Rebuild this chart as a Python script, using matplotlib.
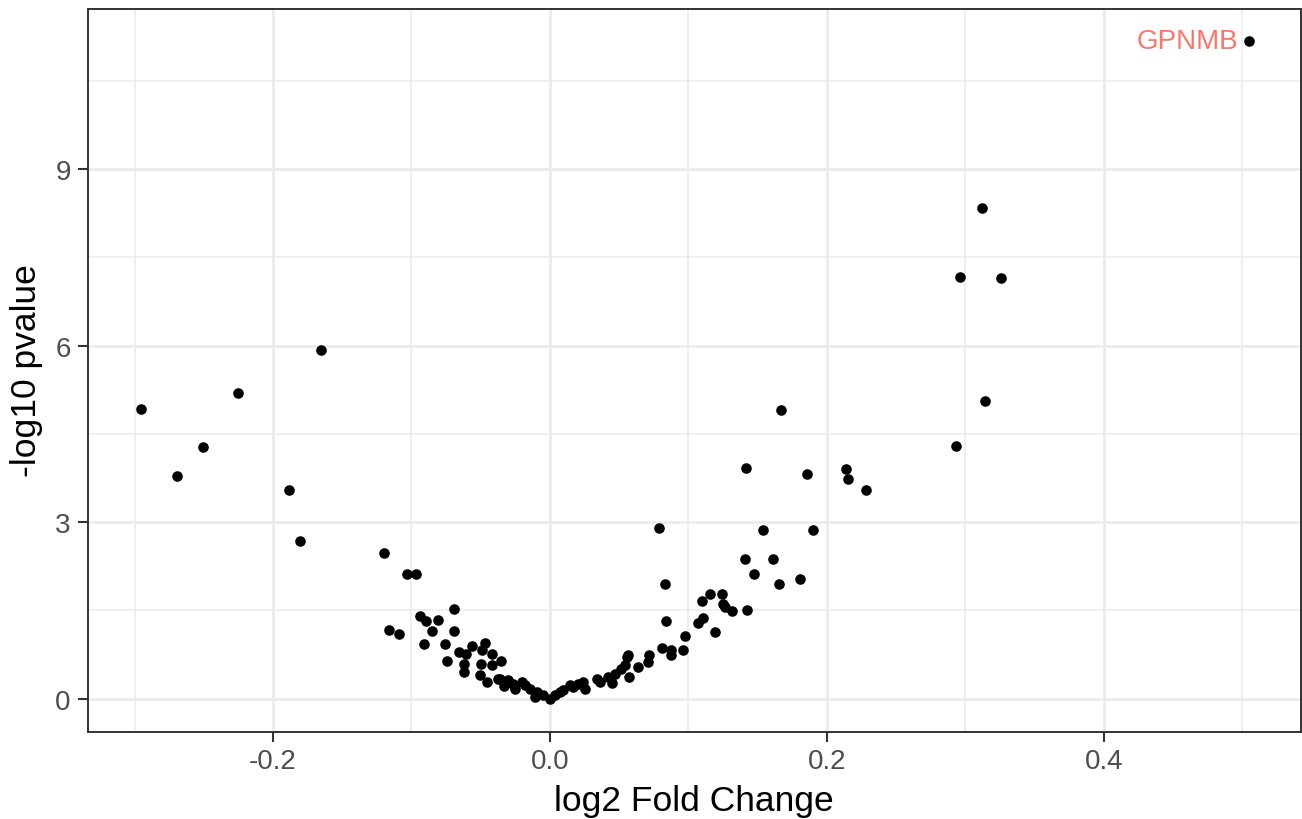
import matplotlib
matplotlib.use("Agg")
import matplotlib.pyplot as plt
import numpy as np

plt.rcParams['font.family'] = ['Liberation Sans', 'DejaVu Sans']

# log2 fold change / -log10 pvalue
log2fc = [
    -0.295, -0.269, -0.2505, -0.225, -0.1656, -0.1882, -0.1803,
    -0.120, -0.1035, -0.0967, -0.116, -0.109,
    -0.094, -0.0895, -0.081, -0.069, -0.085, -0.069,
    -0.091, -0.076, -0.0746, -0.066, -0.0607, -0.0566,
    -0.047, -0.0493, -0.042, -0.035, -0.062, -0.062,
    -0.0498, -0.0416, -0.0505, -0.0457, -0.0373, -0.036,
    -0.030, -0.0265, -0.033, -0.025, -0.0204, -0.018,
    -0.0144, -0.0096, -0.0108, -0.0048, 0.0, 0.0036,
    0.0072, 0.0096, 0.0144, 0.0168, 0.0204, 0.024,
    0.0253, 0.0337, 0.0361, 0.0421, 0.047, 0.0445,
    0.0517, 0.054, 0.0554, 0.0566, 0.0573, 0.0638,
    0.0710, 0.0717, 0.083, 0.0838, 0.0806, 0.0871,
    0.0874, 0.0958, 0.0975, 0.1066, 0.1107, 0.1102,
    0.1155, 0.119, 0.124, 0.1251, 0.1264, 0.1312,
    0.167, 0.1415, 0.186, 0.2135, 0.2154, 0.228,
    0.0787, 0.1538, 0.1899, 0.1408, 0.1613, 0.1473,
    0.1653, 0.1807, 0.1425,
    0.3122, 0.2963, 0.3259, 0.3143, 0.2934, 0.505,
]
neglog10p = [
    4.93, 3.79, 4.27, 5.19, 5.93, 3.55, 2.67,
    2.48, 2.12, 2.12, 1.16, 1.10,
    1.40, 1.32, 1.34, 1.53, 1.15, 1.15,
    0.93, 0.93, 0.63, 0.79, 0.75, 0.90,
    0.95, 0.83, 0.75, 0.64, 0.58, 0.45,
    0.58, 0.57, 0.40, 0.28, 0.34, 0.34,
    0.31, 0.25, 0.22, 0.16, 0.28, 0.23,
    0.17, 0.11, 0.03, 0.06, 0.0, 0.06,
    0.11, 0.14, 0.23, 0.20, 0.25, 0.28,
    0.17, 0.34, 0.28, 0.37, 0.42, 0.26,
    0.51, 0.57, 0.71, 0.74, 0.37, 0.54,
    0.62, 0.74, 1.94, 1.32, 0.86, 0.82,
    0.74, 0.83, 1.07, 1.28, 1.37, 1.65,
    1.77, 1.13, 1.78, 1.61, 1.56, 1.48,
    4.91, 3.92, 3.81, 3.90, 3.73, 3.54,
    2.90, 2.86, 2.86, 2.37, 2.37, 2.11,
    1.94, 2.04, 1.50,
    8.34, 7.16, 7.15, 5.05, 4.29, 11.17,
]
label_gene = "GPNMB"
label_idx = len(log2fc) - 1

x_ticks = [-0.2, 0.0, 0.2, 0.4]
x_minor = [-0.3, -0.1, 0.1, 0.3, 0.5]
y_ticks = [0, 3, 6, 9]
y_minor = [1.5, 4.5, 7.5, 10.5]

W, H = 1302, 820
fig = plt.figure(figsize=(W / 100, H / 100), dpi=100)
ax = fig.add_axes([87.5 / W, 1 - 732.5 / H, (1301 - 87.5) / W, (732.5 - 9.5) / H])

ax.set_xlim(-0.334, 0.5425)
ax.set_ylim(-0.56, 11.73)

ax.set_xticks(x_ticks)
ax.set_xticklabels(["-0.2", "0.0", "0.2", "0.4"])
ax.set_xticks(x_minor, minor=True)
ax.set_yticks(y_ticks)
ax.set_yticks(y_minor, minor=True)

ax.grid(which='major', color='#EBEBEB', linewidth=2.0, zorder=0)
ax.grid(which='minor', color='#EBEBEB', linewidth=1.1, zorder=0)
ax.set_axisbelow(True)

ax.tick_params(which='major', length=7, width=1.5, color='#333333',
               labelsize=20, labelcolor='#4D4D4D', pad=5)
ax.tick_params(which='minor', length=0)

for sp in ax.spines.values():
    sp.set_color('#333333')
    sp.set_linewidth(1.4)

ax.scatter(log2fc, neglog10p, s=58, color='black', linewidths=0, zorder=3)

ax.annotate(label_gene, (log2fc[label_idx], neglog10p[label_idx]),
            xytext=(-7.5, 0), textcoords='offset points',
            ha='right', va='center', color='#F8766D', fontsize=20)

ax.set_xlabel("log2 Fold Change", fontsize=25.5, color='black', labelpad=7)
ax.set_ylabel("-log10 pvalue", fontsize=25.5, color='black', labelpad=9)

fig.savefig("out.png", dpi=100)
